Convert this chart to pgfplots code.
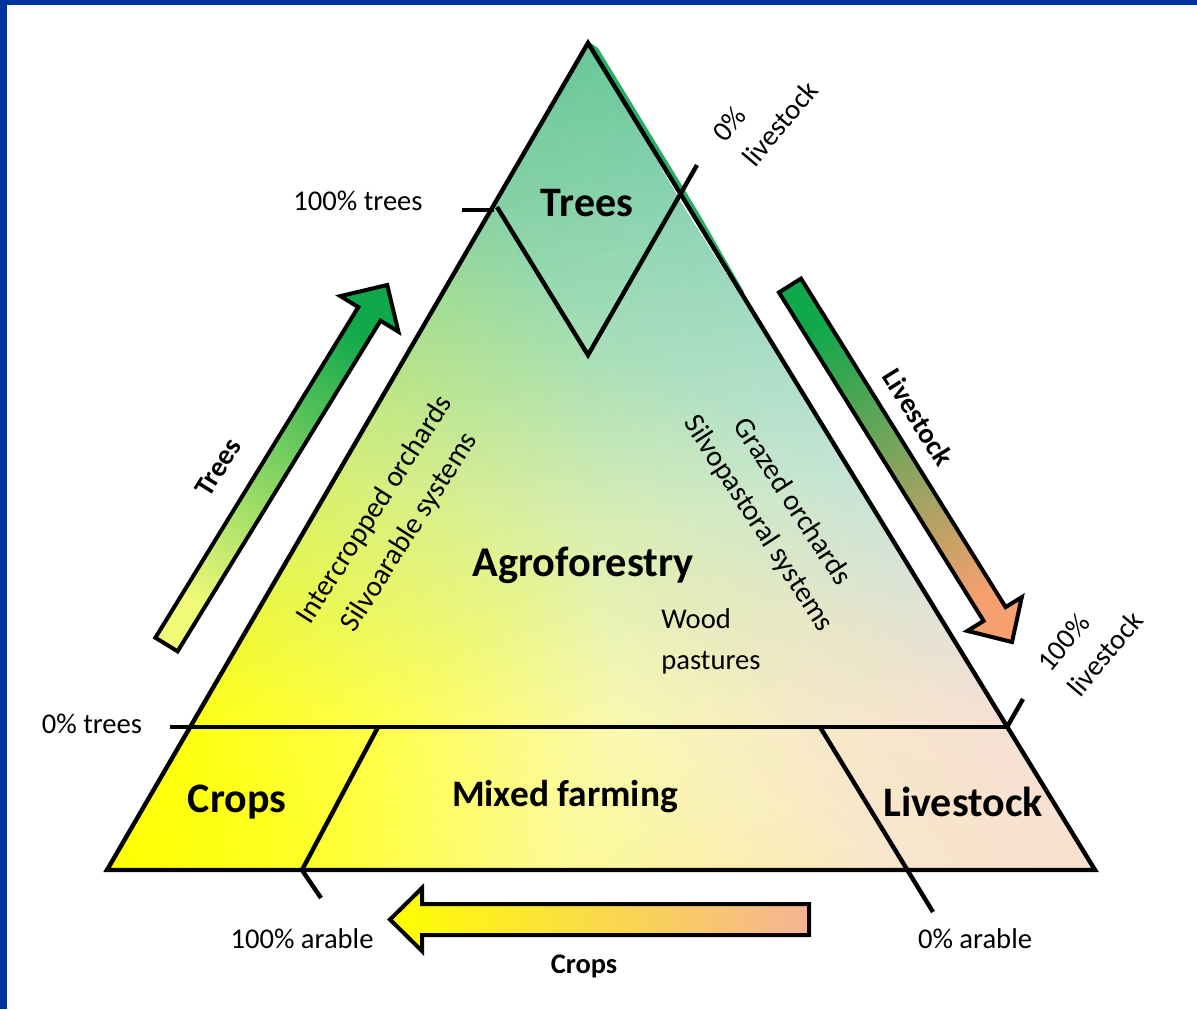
\documentclass[border=0pt]{standalone}
\usepackage{pgfplots}
\pgfplotsset{compat=1.18}
\usepackage{fontspec}
\setmainfont{Carlito}
\definecolor{borderblue}{RGB}{0,51,158}
\definecolor{cA}{RGB}{105,200,152}
\definecolor{cPa}{RGB}{135,210,165}
\definecolor{cPb}{RGB}{140,212,180}
\definecolor{cM}{RGB}{160,220,182}
\definecolor{cLm}{RGB}{212,238,120}
\definecolor{cRm}{RGB}{195,228,214}
\definecolor{cC}{RGB}{218,238,180}
\definecolor{cLb}{RGB}{255,255,20}
\definecolor{cTb}{RGB}{255,255,75}
\definecolor{cTc}{RGB}{250,248,178}
\definecolor{cTd}{RGB}{247,232,202}
\definecolor{cRb}{RGB}{246,224,214}
\definecolor{cL}{RGB}{255,255,0}
\definecolor{cBb}{RGB}{255,255,40}
\definecolor{cBc}{RGB}{252,250,150}
\definecolor{cBd}{RGB}{248,228,206}
\definecolor{cR}{RGB}{248,222,208}
\definecolor{arrG}{RGB}{15,168,75}
\definecolor{arrY}{RGB}{240,250,120}
\definecolor{arrO}{RGB}{245,160,110}
\definecolor{crY}{RGB}{255,255,0}
\definecolor{crP}{RGB}{245,180,148}
\definecolor{edgeG}{RGB}{40,175,100}
\begin{document}
\begin{tikzpicture}
\begin{axis}[width=598.5pt,height=504.5pt,scale only axis,
  xmin=0,xmax=1197,ymin=0,ymax=1009,y dir=reverse,hide axis,clip=false]
% frame
\addplot[fill=borderblue,draw=none] coordinates {(0,0)(1197,0)(1197,1009)(0,1009)} --cycle;
\addplot[fill=white,draw=none] coordinates {(7,5)(1197,5)(1197,1009)(7,1009)} --cycle;
% green edge sliver
\addplot[fill=edgeG,draw=none] coordinates {(588,41)(598,48)(700,215)(744,292)(738,292)} --cycle;
% gradient fill of the triangle
\addplot[patch,shader=interp,mesh/color input=explicit] table[meta=c] {
x y c
588 43 color=cA
491 210 color=cPa
685 210 color=cPb
491 210 color=cPa
588 320 color=cM
685 210 color=cPb
491 210 color=cPa
340 470 color=cLm
588 320 color=cM
588 320 color=cM
340 470 color=cLm
600 530 color=cC
588 320 color=cM
600 530 color=cC
850 470 color=cRm
588 320 color=cM
850 470 color=cRm
685 210 color=cPb
340 470 color=cLm
190 727 color=cLb
378 727 color=cTb
340 470 color=cLm
378 727 color=cTb
600 530 color=cC
600 530 color=cC
378 727 color=cTb
620 727 color=cTc
600 530 color=cC
620 727 color=cTc
820 727 color=cTd
600 530 color=cC
820 727 color=cTd
1007 727 color=cRb
600 530 color=cC
1007 727 color=cRb
850 470 color=cRm
190 727 color=cLb
107 870 color=cL
302 870 color=cBb
190 727 color=cLb
302 870 color=cBb
378 727 color=cTb
378 727 color=cTb
302 870 color=cBb
560 870 color=cBc
378 727 color=cTb
560 870 color=cBc
620 727 color=cTc
620 727 color=cTc
560 870 color=cBc
908 870 color=cBd
620 727 color=cTc
908 870 color=cBd
820 727 color=cTd
820 727 color=cTd
908 870 color=cBd
1095 870 color=cR
820 727 color=cTd
1095 870 color=cR
1007 727 color=cRb
};
% outline and internal lines
\addplot[black,line width=2.2pt,line join=miter] coordinates {(588,43)(107,870)(1095,870)} --cycle;
\addplot[black,line width=2.2pt] coordinates {(170,727)(1007,727)};
\addplot[black,line width=2.2pt] coordinates {(462,210)(494,210)};
\addplot[black,line width=2.2pt,line join=miter] coordinates {(497,207)(588,355)(697,165)};
\addplot[black,line width=2.2pt] coordinates {(1007,727)(1023,699)};
\addplot[black,line width=2.2pt] coordinates {(378,727)(302,870)(321,898)};
\addplot[black,line width=2.2pt] coordinates {(820,727)(933,912)};
% arrows
\addplot[draw=black,line width=2pt,line join=miter,top color=arrG,bottom color=arrY,shading angle=-31.5]
 coordinates {(155.4,637.7)(177.6,651.3)(380.5,320.7)(398.4,331.7)(387.2,285)(340.4,296.1)(358.3,307.1)} --cycle;
\addplot[draw=black,line width=2pt,line join=miter,top color=arrG,bottom color=arrO,shading angle=31.9]
 coordinates {(779,292.4)(801,278.6)(1005.6,607.1)(1021.8,597.1)(1012,642)(967.4,630.9)(983.6,620.9)} --cycle;
\addplot[draw=black,line width=2pt,line join=miter,left color=crY,right color=crP]
 coordinates {(809,904)(422,904)(422,888)(390,919.5)(422,951)(422,935)(809,935)} --cycle;
% texts
\node[font=\fontsize{21}{25}\selectfont\bfseries] at (axis cs:587,203) {Trees};
\node[font=\fontsize{21.2}{25}\selectfont\bfseries] at (axis cs:583,565) {Agroforestry};
\node[font=\fontsize{21}{25}\selectfont\bfseries] at (axis cs:237,802) {Crops};
\node[font=\fontsize{18.7}{22}\selectfont\bfseries] at (axis cs:565,797) {Mixed farming};
\node[font=\fontsize{21}{25}\selectfont\bfseries] at (axis cs:963,802) {Livestock};
\node[font=\fontsize{14.3}{17}\selectfont] at (axis cs:358,201) {100\% trees};
\node[font=\fontsize{14.3}{17}\selectfont] at (axis cs:92,724) {0\% trees};
\node[font=\fontsize{14.3}{17}\selectfont] at (axis cs:302,939) {100\% arable};
\node[font=\fontsize{14.3}{17}\selectfont] at (axis cs:975,939) {0\% arable};
\node[font=\fontsize{14.2}{17}\selectfont\bfseries] at (axis cs:584,966) {Crops};
\node[font=\fontsize{14.3}{20.5}\selectfont,align=left,inner sep=0pt,anchor=north west] at (axis cs:661,608) {Wood\\pastures};
\node[font=\fontsize{14.3}{19.5}\selectfont,rotate=50,align=left,inner sep=0pt] at (axis cs:765,111) {0\%\\livestock};
\node[font=\fontsize{14.3}{19.5}\selectfont,rotate=50,align=left,inner sep=0pt] at (axis cs:1090,641) {100\%\\livestock};
\node[font=\fontsize{14.2}{17}\selectfont\bfseries,rotate=58] at (axis cs:218,467) {Trees};
\node[font=\fontsize{14.2}{17}\selectfont\bfseries,rotate=-58] at (axis cs:918,417) {Livestock};
\node[font=\fontsize{14.6}{20.5}\selectfont,rotate=57.5,align=center,inner sep=0pt] at (axis cs:392.5,521) {Intercropped orchards\\Silvoarable systems};
\node[font=\fontsize{14.6}{20}\selectfont,rotate=-57,align=center,inner sep=0pt] at (axis cs:775,513) {Grazed orchards\\Silvopastoral systems};
\end{axis}
\end{tikzpicture}
\end{document}
